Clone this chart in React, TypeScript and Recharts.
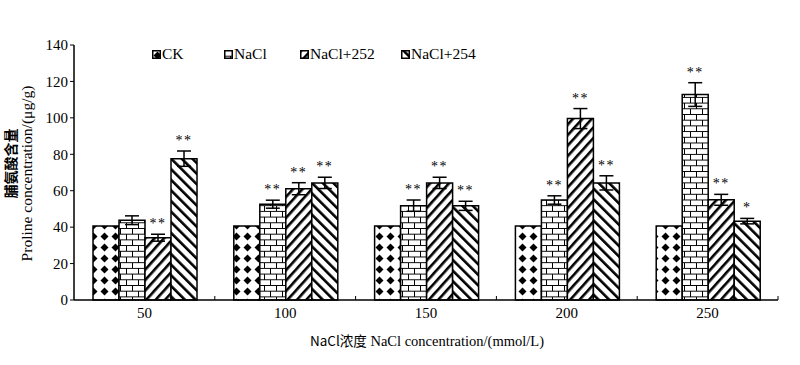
import { BarChart, Bar, XAxis, YAxis, ErrorBar, LabelList } from "recharts";

const concentrations = ["50", "100", "150", "200", "250"];
const ckValues = [40.6, 40.6, 40.6, 40.6, 40.6];
const naclValues = [43.8, 52.6, 51.8, 54.9, 112.8];
const nacl252Values = [34.2, 61.1, 64.3, 99.6, 55.0];
const nacl254Values = [77.6, 64.3, 51.7, 64.3, 43.3];
const naclErr = [2.4, 2.2, 3.1, 2.3, 6.5];
const nacl252Err = [1.9, 3.3, 3.1, 5.5, 3.0];
const nacl254Err = [4.2, 3.1, 2.5, 3.9, 1.5];
const naclSig = ["", "**", "**", "**", "**"];
const nacl252Sig = ["**", "**", "**", "**", "**"];
const nacl254Sig = ["**", "**", "**", "**", "*"];
const yTicks = [0, 20, 40, 60, 80, 100, 120, 140];

const data = concentrations.map((c, i) => ({
  conc: c,
  CK: ckValues[i],
  NaCl: naclValues[i],
  N252: nacl252Values[i],
  N254: nacl254Values[i],
  NaClErr: naclErr[i],
  N252Err: nacl252Err[i],
  N254Err: nacl254Err[i],
}));

const series = [
  { key: "CK", name: "CK", fill: "url(#pCK)", err: null, sig: null },
  { key: "NaCl", name: "NaCl", fill: "url(#pBrick)", err: "NaClErr", sig: naclSig, errs: naclErr },
  { key: "N252", name: "NaCl+252", fill: "url(#p252)", err: "N252Err", sig: nacl252Sig, errs: nacl252Err },
  { key: "N254", name: "NaCl+254", fill: "url(#p254)", err: "N254Err", sig: nacl254Sig, errs: nacl254Err },
];

const font = "'Liberation Serif', 'Times New Roman', serif";
const cjkFont = "'Noto Sans CJK SC', sans-serif";

function SigLabel(props: any, sig: string[], errs: number[]) {
  const { x, y, width, height, value, index } = props;
  const s = sig[index];
  if (!s) return null;
  const errPx = value ? (errs[index] * height) / value : 0;
  return (
    <text
      x={x + width / 2}
      y={y - errPx - 6}
      textAnchor="middle"
      fontFamily={font}
      fontSize={14}
      letterSpacing={1.5}
      fill="#000"
      stroke="none"
    >
      {s}
    </text>
  );
}

function XTick(props: any) {
  const { x, y, payload, width } = props;
  const band = (width || 704) / concentrations.length;
  return (
    <g>
      <line x1={x + band / 2} y1={y} x2={x + band / 2} y2={y - 4} stroke="#000" strokeWidth={1} />
      <text x={x} y={y + 18} textAnchor="middle" fontFamily={font} fontSize={15} fill="#000">
        {payload.value}
      </text>
    </g>
  );
}

function YTitle(props: any) {
  const vb = props.viewBox || { x: 0, y: 45, width: 74, height: 255 };
  const cy = vb.y + vb.height / 2;
  return (
    <g>
      <text
        x={10}
        y={cy - 9}
        transform={`rotate(-90, 10, ${cy - 9})`}
        textAnchor="middle"
        dominantBaseline="central"
        fontFamily={cjkFont}
        fontWeight="bold"
        fontSize={14}
        fill="#000"
      >
        脯氨酸含量
      </text>
      <text
        x={26}
        y={cy + 1}
        transform={`rotate(-90, 26, ${cy + 1})`}
        textAnchor="middle"
        dominantBaseline="central"
        fontFamily={font}
        fontSize={15.5}
        fill="#000"
      >
        Proline concentration/(μg/g)
      </text>
    </g>
  );
}

function XTitle(props: any) {
  const vb = props.viewBox || { x: 74, y: 300, width: 704 };
  return (
    <text x={vb.x + vb.width / 2 + 1} y={346} textAnchor="middle" fontFamily={font} fontSize={14.5} fill="#000">
      <tspan fontFamily={cjkFont} fontSize={13.5}>NaCl浓度</tspan>
      <tspan> NaCl concentration/(mmol/L)</tspan>
    </text>
  );
}

function Legendbox() {
  const items = [
    { name: "CK", fill: "url(#pCK)", left: 152 },
    { name: "NaCl", fill: "url(#pBrick)", left: 224 },
    { name: "NaCl+252", fill: "url(#p252)", left: 300 },
    { name: "NaCl+254", fill: "url(#p254)", left: 401 },
  ];
  return (
    <div style={{ position: "absolute", left: 0, top: 45, width: 800, height: 20 }}>
      {items.map((it) => (
        <div
          key={it.name}
          style={{ position: "absolute", left: it.left, top: 0, display: "flex", alignItems: "center", fontFamily: font, fontSize: 15.5 }}
        >
          <svg width={9} height={9} style={{ marginRight: 1 }}>
            <rect x={0.75} y={0.75} width={7.5} height={7.5} fill={it.fill} stroke="#000" strokeWidth={1.5} />
          </svg>
          <span>{it.name}</span>
        </div>
      ))}
    </div>
  );
}

export default function App() {
  return (
    <div style={{ position: "absolute", left: 0, top: 0, width: 800, height: 365, background: "#fff" }}>
      <BarChart
        width={800}
        height={365}
        data={data}
        margin={{ top: 45, right: 22, bottom: 20, left: 0 }}
        barCategoryGap="13.5%"
        barGap={0}
      >
        <defs>
          <pattern id="pCK" width={11} height={11} patternUnits="userSpaceOnUse">
            <rect width={11} height={11} fill="#fff" />
            <polygon points="5.5,1.5 9.5,5.5 5.5,9.5 1.5,5.5" fill="#000" />
          </pattern>
          <pattern id="pBrick" width={12} height={11.4} patternUnits="userSpaceOnUse">
            <rect width={12} height={11.4} fill="#fff" />
            <path d="M0 0.5H12 M0 6.2H12 M0.5 0.5V6.2 M6.5 6.2V11.4" stroke="#000" strokeWidth={1} fill="none" />
          </pattern>
          <pattern id="p252" width={7} height={7} patternUnits="userSpaceOnUse" patternTransform="rotate(42)">
            <rect width={7} height={7} fill="#fff" />
            <rect width={2.6} height={7} fill="#000" />
          </pattern>
          <pattern id="p254" width={7.5} height={7.5} patternUnits="userSpaceOnUse" patternTransform="rotate(-45)">
            <rect width={7.5} height={7.5} fill="#fff" />
            <rect width={2.6} height={7.5} fill="#000" />
          </pattern>
        </defs>
        <XAxis
          dataKey="conc"
          height={45}
          tickLine={false}
          tickSize={0}
          tickMargin={0}
          axisLine={{ stroke: "#000", strokeWidth: 1.5 }}
          tick={XTick}
          interval={0}
          label={{ content: XTitle }}
        />
        <YAxis
          width={74}
          domain={[0, 140]}
          ticks={yTicks}
          tickSize={4}
          tickLine={{ stroke: "#000" }}
          axisLine={{ stroke: "#000", strokeWidth: 1.5 }}
          tick={{ fill: "#000", fontSize: 15, fontFamily: font }}
          label={{ content: YTitle }}
        />
        {series.map((s) => (
          <Bar
            key={s.key}
            dataKey={s.key}
            name={s.name}
            fill={s.fill}
            stroke="#000"
            strokeWidth={1.5}
            isAnimationActive={false}
          >
            {s.err && <ErrorBar dataKey={s.err} width={7} stroke="#000" strokeWidth={1.5} direction="y" />}
            {s.sig && (
              <LabelList dataKey={s.key} content={(p: any) => SigLabel(p, s.sig as string[], s.errs as number[])} />
            )}
          </Bar>
        ))}
      </BarChart>
      <Legendbox />
    </div>
  );
}
